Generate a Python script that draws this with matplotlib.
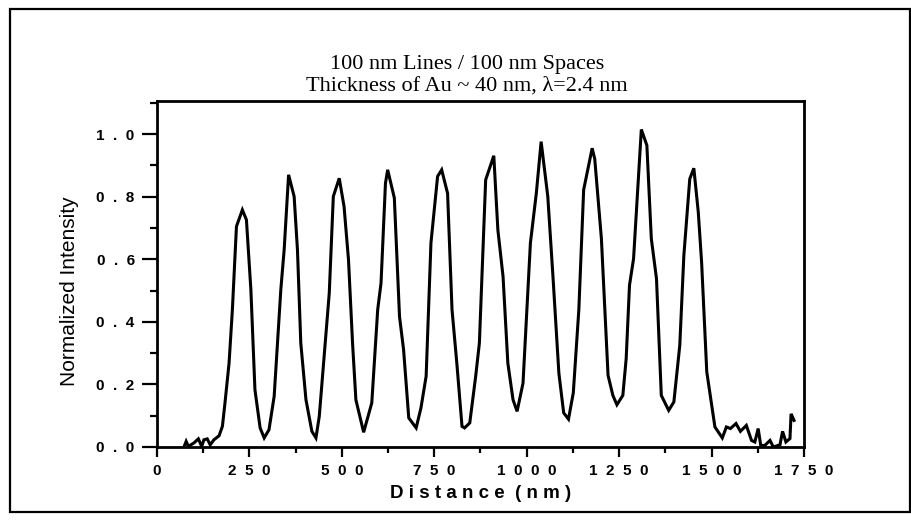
"""Normalized intensity profile across 100 nm lines / 100 nm spaces."""

import matplotlib
matplotlib.use("Agg")
import matplotlib.pyplot as plt
from matplotlib.patches import Rectangle
from matplotlib.ticker import MultipleLocator, FuncFormatter

# distance along the scan (nm) and normalized intensity
distance = [73, 79, 85, 100, 112, 121, 127, 136, 144, 154, 168, 177, 184,
            195, 204, 215, 231, 242, 249, 254, 265, 279, 290, 303, 317, 326,
            335, 344, 356, 371, 380, 389, 403, 419, 430, 439, 455, 466, 477,
            493, 506, 518, 529, 538, 559, 581, 597, 606, 618, 624, 642, 656,
            667, 681, 701, 714, 728, 741, 759, 770, 786, 798, 811, 825, 832,
            846, 862, 872, 889, 911, 922, 936, 949, 963, 974, 990, 1010, 1026,
            1039, 1057, 1071, 1087, 1100, 1113, 1126, 1141, 1154, 1177, 1184,
            1202, 1220, 1233, 1244, 1260, 1269, 1278, 1289, 1310, 1325, 1337,
            1351, 1364, 1384, 1398, 1414, 1425, 1441, 1452, 1464, 1473, 1487,
            1509, 1529, 1540, 1551, 1566, 1578, 1594, 1608, 1617, 1626, 1633,
            1644, 1658, 1667, 1685, 1692, 1701, 1712, 1715, 1723]
intensity = [0.0, 0.018, 0.002, 0.013, 0.026, 0.002, 0.023, 0.026, 0.007,
             0.023, 0.036, 0.066, 0.141, 0.268, 0.439, 0.705, 0.758, 0.726,
             0.599, 0.503, 0.183, 0.061, 0.029, 0.055, 0.162, 0.332, 0.503,
             0.630, 0.870, 0.801, 0.630, 0.332, 0.151, 0.050, 0.029, 0.098,
             0.332, 0.492, 0.801, 0.859, 0.769, 0.599, 0.332, 0.151, 0.047,
             0.141, 0.439, 0.524, 0.843, 0.886, 0.796, 0.417, 0.311, 0.093,
             0.061, 0.125, 0.226, 0.652, 0.865, 0.886, 0.811, 0.439, 0.268,
             0.066, 0.061, 0.077, 0.226, 0.332, 0.854, 0.931, 0.694, 0.545,
             0.268, 0.151, 0.114, 0.204, 0.652, 0.811, 0.976, 0.801, 0.545,
             0.236, 0.109, 0.089, 0.173, 0.439, 0.822, 0.955, 0.921, 0.666,
             0.229, 0.165, 0.135, 0.165, 0.282, 0.517, 0.602, 1.015, 0.964,
             0.666, 0.538, 0.165, 0.117, 0.144, 0.325, 0.612, 0.857, 0.891,
             0.751, 0.591, 0.240, 0.064, 0.029, 0.064, 0.059, 0.075, 0.050,
             0.069, 0.021, 0.016, 0.059, 0.005, 0.005, 0.021, 0.0, 0.007,
             0.050, 0.016, 0.027, 0.106, 0.085]

title_lines = ["100 nm Lines / 100 nm Spaces",
               "Thickness of Au ~ 40 nm, \u03bb=2.4 nm"]


def spaced(s, gap="  "):
    """Spread the characters of a label apart."""
    return gap.join(s)


def main():
    fig = plt.figure(figsize=(9.12, 5.2), dpi=100)
    fig.patch.set_facecolor("white")

    # border round the whole figure
    fig.patches.append(Rectangle((0.011, 0.0154), 0.987, 0.967, transform=fig.transFigure,
                                 fill=False, edgecolor="black", linewidth=1.6))

    ax = fig.add_axes([0.1721, 0.1404, 0.7095, 0.6654])
    ax.plot(distance, intensity, color="black", linewidth=2.2, solid_joinstyle="miter")

    ax.set_xlim(0, 1750)
    ax.set_ylim(0, 1.106)
    ax.xaxis.set_major_locator(MultipleLocator(250))
    ax.xaxis.set_minor_locator(MultipleLocator(125))
    ax.yaxis.set_major_locator(MultipleLocator(0.2))
    ax.yaxis.set_minor_locator(MultipleLocator(0.1))
    ax.xaxis.set_major_formatter(FuncFormatter(lambda v, p: spaced("%d" % v)))
    ax.yaxis.set_major_formatter(FuncFormatter(lambda v, p: spaced("%.1f" % v)))

    for side in ["left", "bottom", "top", "right"]:
        ax.spines[side].set_linewidth(2.0)
    ax.tick_params(which="both", top=False, right=False, direction="out", width=1.6)
    ax.tick_params(axis="y", which="major", length=11, pad=5)
    ax.tick_params(axis="y", which="minor", length=5)
    ax.tick_params(axis="x", which="major", length=7, pad=5)
    ax.tick_params(axis="x", which="minor", length=4)
    for lab in ax.get_xticklabels() + ax.get_yticklabels():
        lab.set_fontfamily("Liberation Sans")
        lab.set_fontweight("bold")
        lab.set_fontsize(11)

    ax.set_xlabel(spaced("Distance", " ") + "  " + spaced("(nm)", " "), fontsize=13.5,
                  fontweight="bold", family="Liberation Sans", labelpad=5)
    ax.set_ylabel("Normalized Intensity", fontsize=15, family="Liberation Sans")
    ax.yaxis.set_label_coords(-0.121, 0.45)

    fig.text(0.512, 0.876, title_lines[0], ha="center", va="center",
             family="Liberation Serif", fontsize=16)
    fig.text(0.512, 0.834, title_lines[1], ha="center", va="center",
             family="Liberation Serif", fontsize=16)

    fig.savefig("out.png", dpi=100)


if __name__ == "__main__":
    main()
